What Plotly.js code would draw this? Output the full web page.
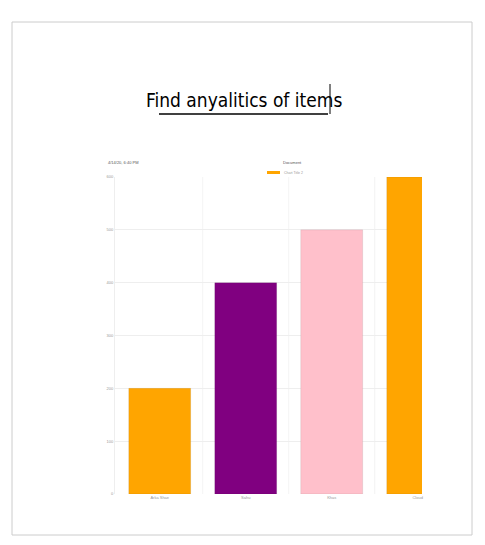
<!doctype html>
<html>
<head>
  <meta charset="utf-8">
  <script src="https://cdn.plot.ly/plotly-3.0.1.min.js"></script>
  <style>body{margin:0;background:#fff}</style>
</head>
<body>
  <div id="chart" style="width:485px;height:545px"></div>
  <script>
    // chart data
    var items = ['Arka Shae', 'Sahu', 'Khas', 'Cloud'];
    var counts = [200, 400, 500, 600];
    var barColors = ['orange', 'purple', 'pink', 'orange'];
    var yTicks = [0, 100, 200, 300, 400, 500, 600];
    var seriesName = 'Chart Title 2';

    // pixel -> paper helpers (plot area 115..422 x, 177..494 y)
    function px(x) { return (x - 115) / 307; }
    function py(y) { return (494 - y) / 317; }

    var trace = {
      x: [0, 1, 2, 3], y: counts, type: 'bar', name: seriesName,
      width: 0.72,
      marker: { color: barColors, line: { color: 'rgba(0,0,0,0.15)', width: 0.5 } }
    };

    function label(text, x, y, size, color, anchor, family) {
      return { text: text, xref: 'paper', yref: 'paper', x: px(x), y: py(y),
               xanchor: anchor || 'center', yanchor: 'middle', showarrow: false,
               font: { size: size, color: color, family: family } };
    }

    var layout = {
      width: 485, height: 545,
      margin: { l: 115, r: 63, t: 177, b: 51 },
      paper_bgcolor: '#fff', plot_bgcolor: '#fff',
      font: { family: 'Liberation Sans', color: '#999', size: 4 },
      showlegend: false,
      xaxis: { range: [-0.52, 3.05], tickvals: [0, 1, 2, 3], ticktext: items,
               showgrid: false, showline: false, zeroline: false, ticks: '' },
      yaxis: { range: [0, 600], tickvals: yTicks, showgrid: true, gridcolor: '#eee',
               zeroline: false, showline: true, linecolor: '#eee', ticks: '' },
      shapes: [
        // page border
        { type: 'rect', xref: 'paper', yref: 'paper', x0: px(12), x1: px(472), y0: py(535), y1: py(22),
          line: { color: '#ccc', width: 1 } },
        // vertical grid lines between categories
        { type: 'line', xref: 'x', yref: 'paper', x0: 0.5, x1: 0.5, y0: 0, y1: 1, line: { color: '#eee', width: 0.7 } },
        { type: 'line', xref: 'x', yref: 'paper', x0: 1.5, x1: 1.5, y0: 0, y1: 1, line: { color: '#eee', width: 0.7 } },
        { type: 'line', xref: 'x', yref: 'paper', x0: 2.5, x1: 2.5, y0: 0, y1: 1, line: { color: '#eee', width: 0.7 } },
        // legend swatch
        { type: 'rect', xref: 'paper', yref: 'paper', x0: px(267), x1: px(280), y0: py(174), y1: py(171),
          fillcolor: 'orange', line: { width: 0 } },
        // title underline and cursor
        { type: 'line', xref: 'paper', yref: 'paper', x0: px(159), x1: px(328), y0: py(114), y1: py(114),
          line: { color: '#000', width: 1.5 } },
        { type: 'line', xref: 'paper', yref: 'paper', x0: px(330), x1: px(330), y0: py(84), y1: py(114),
          line: { color: '#000', width: 1 } }
      ],
      annotations: [
        label('Find anyalitics of items', 244, 100, 19, '#000', 'center', 'DejaVu Sans Condensed'),
        label('4/14/20, 6:40 PM', 106, 162, 4, '#555', 'left'),
        label('Document', 292, 162, 4, '#555', 'center'),
        label(seriesName, 282, 172.5, 3.5, '#999', 'left')
      ]
    };

    Plotly.newPlot('chart', [trace], layout, { displayModeBar: false });
  </script>
</body>
</html>
